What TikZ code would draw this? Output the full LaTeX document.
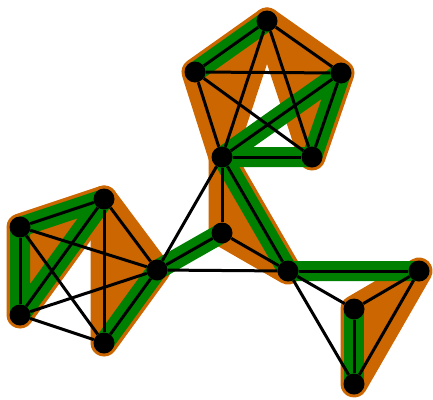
\documentclass[tikz,border=0pt]{standalone}
\usepackage{tikz}
\usetikzlibrary{backgrounds}
\definecolor{bagcol}{RGB}{204,102,0}
\definecolor{pathcol}{RGB}{0,128,0}
\tikzset{
  vtx/.style={circle,fill=black,inner sep=0pt,minimum size=21pt},
  link/.style={line width=3pt},
  bag/.style={draw=bagcol,fill=bagcol,line width=27pt,line join=round},
  route/.style={draw=pathcol,line width=20pt,line join=round,line cap=round},
}

\begin{document}
\begin{tikzpicture}[x=1pt,y=-1pt]
  \useasboundingbox (0,0) rectangle (433,399);
  \node[vtx] (a1) at (267,21) {};
  \node[vtx] (a2) at (195,72) {};
  \node[vtx] (a3) at (341,73) {};
  \node[vtx] (a4) at (222,157) {};
  \node[vtx] (a5) at (312,157) {};
  \node[vtx] (b1) at (20,227) {};
  \node[vtx] (b2) at (104,199) {};
  \node[vtx] (b3) at (20,315) {};
  \node[vtx] (b4) at (104,343) {};
  \node[vtx] (c) at (157,270) {};
  \node[vtx] (m) at (222,233) {};
  \node[vtx] (d) at (288,271) {};
  \node[vtx] (e) at (419,271) {};
  \node[vtx] (f) at (354,309) {};
  \node[vtx] (g) at (354,384) {};
  \begin{scope}[on background layer]
    \foreach \p/\q/\r in {a1/a2/a4,a1/a3/a5,a4/m/d,b1/b2/b3,b2/b4/c,e/f/g}
      {\draw[bag] (\p.center) -- (\q.center) -- (\r.center) -- cycle;}
    \draw[route] (a2.center) -- (a1.center);
    \draw[route] (a4.center) -- (a3.center) -- (a5.center) -- cycle;
    \draw[route] (a4.center) -- (d.center) -- (e.center);
    \draw[route] (b4.center) -- (c.center) -- (m.center);
    \draw[route] (b1.center) -- (b2.center) -- (b3.center) -- cycle;
    \draw[route] (f.center) -- (g.center);
  \end{scope}
  \foreach \p/\q in {a1/a2,a1/a3,a1/a4,a1/a5,a2/a3,a2/a4,a2/a5,a3/a4,a3/a5,a4/a5,
                     a4/m,a4/c,a4/d,b1/b2,b1/b3,b1/b4,b1/c,b2/b3,b2/b4,b2/c,b3/b4,b3/c,b4/c,
                     c/m,c/d,m/d,d/e,d/f,d/g,e/f,e/g,f/g}
    {\draw[link] (\p) -- (\q);}
\end{tikzpicture}
\end{document}
